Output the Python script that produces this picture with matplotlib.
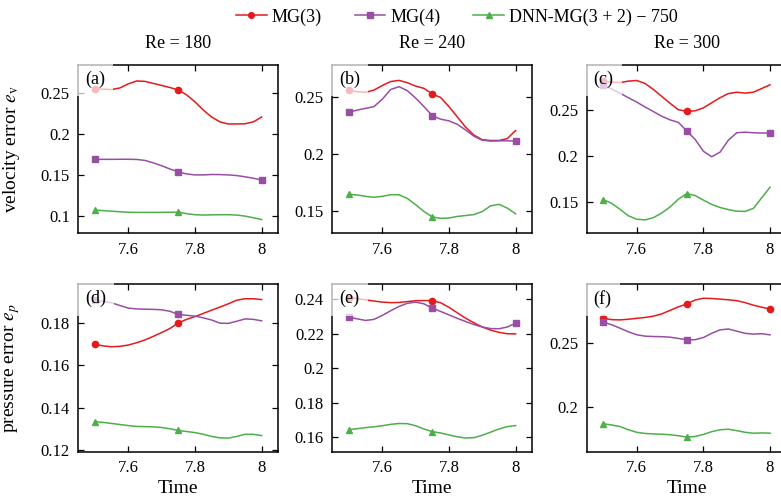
import matplotlib
matplotlib.use("Agg")
import matplotlib.pyplot as plt
from matplotlib.ticker import MultipleLocator, FuncFormatter

plt.rcParams["font.family"] = ["Liberation Serif", "DejaVu Serif"]
plt.rcParams["mathtext.fontset"] = "stix"

# time samples (every 0.025)
time = [7.5, 7.525, 7.55, 7.575, 7.6, 7.625, 7.65, 7.675, 7.7, 7.725, 7.75,
        7.775, 7.8, 7.825, 7.85, 7.875, 7.9, 7.925, 7.95, 7.975, 8.0]

series_names = ["MG(3)", "MG(4)", "DNN-MG(3 + 2) \u2212 750"]
reynolds = [180, 240, 300]
panel_tags = ["(a)", "(b)", "(c)", "(d)", "(e)", "(f)"]

# velocity error, Re = 180
vel_mg3_180 = [0.255, 0.2545, 0.254, 0.256, 0.261, 0.2645, 0.264, 0.2615, 0.259, 0.2565, 0.2535,
               0.2475, 0.239, 0.229, 0.2205, 0.2145, 0.212, 0.212, 0.2122, 0.2145, 0.2205]
vel_mg4_180 = [0.1687, 0.1688, 0.1688, 0.1689, 0.1689, 0.1687, 0.1675, 0.1645, 0.161, 0.157, 0.1535,
               0.151, 0.1498, 0.1498, 0.1503, 0.1502, 0.1498, 0.149, 0.1475, 0.1458, 0.1435]
vel_dnn_180 = [0.1068, 0.1062, 0.1055, 0.1048, 0.1042, 0.104, 0.104, 0.104, 0.1041, 0.1042, 0.1043,
               0.1025, 0.1012, 0.1008, 0.101, 0.1012, 0.1012, 0.1008, 0.0995, 0.0975, 0.0953]

# velocity error, Re = 240
vel_mg3_240 = [0.256, 0.2545, 0.254, 0.256, 0.26, 0.2635, 0.2645, 0.2625, 0.2595, 0.2575, 0.2525,
               0.2495, 0.2415, 0.2325, 0.2235, 0.2165, 0.2125, 0.2118, 0.2118, 0.2135, 0.2205]
vel_mg4_240 = [0.2365, 0.2385, 0.24, 0.2415, 0.248, 0.2565, 0.259, 0.2555, 0.249, 0.2415, 0.2335,
               0.2305, 0.229, 0.226, 0.221, 0.2155, 0.212, 0.2113, 0.2115, 0.2115, 0.2113]
vel_dnn_240 = [0.1645, 0.164, 0.1628, 0.162, 0.1628, 0.1643, 0.1642, 0.161, 0.1555, 0.1495, 0.1448,
               0.1435, 0.1438, 0.1452, 0.146, 0.1468, 0.1495, 0.1545, 0.1558, 0.1525, 0.1475]

# velocity error, Re = 300
vel_mg3_300 = [0.2815, 0.2805, 0.28, 0.2815, 0.2822, 0.279, 0.2725, 0.265, 0.2575, 0.2505, 0.2488,
               0.2493, 0.2525, 0.258, 0.2635, 0.268, 0.2695, 0.2685, 0.2695, 0.2735, 0.2775]
vel_mg4_300 = [0.2775, 0.273, 0.2685, 0.2635, 0.2588, 0.2535, 0.2485, 0.2435, 0.2395, 0.2368, 0.2275,
               0.2185, 0.2055, 0.1995, 0.2045, 0.2175, 0.2255, 0.2262, 0.2255, 0.2252, 0.2253]
vel_dnn_300 = [0.153, 0.149, 0.1425, 0.1355, 0.1318, 0.131, 0.1335, 0.1385, 0.145, 0.1535, 0.1595,
               0.1575, 0.1525, 0.1478, 0.1445, 0.1422, 0.1405, 0.1402, 0.1435, 0.155, 0.1665]

# pressure error, Re = 180
pre_mg3_180 = [0.1698, 0.169, 0.1686, 0.1688, 0.1694, 0.1705, 0.1718, 0.1735, 0.1753, 0.1772, 0.1798,
               0.1815, 0.1828, 0.1843, 0.1858, 0.1873, 0.1888, 0.1905, 0.1912, 0.1912, 0.1908]
pre_mg4_180 = [0.1905, 0.19, 0.1893, 0.188, 0.1868, 0.1864, 0.1863, 0.1862, 0.186, 0.1853, 0.1838,
               0.1834, 0.183, 0.1822, 0.1812, 0.1797, 0.1796, 0.1806, 0.1817, 0.1815, 0.1808]
pre_dnn_180 = [0.1333, 0.133, 0.1325, 0.132, 0.1315, 0.1311, 0.131, 0.1309, 0.1306, 0.13, 0.1292,
               0.1287, 0.1282, 0.1274, 0.1264, 0.1257, 0.1256, 0.1264, 0.1274, 0.1274, 0.1268]

# pressure error, Re = 240
pre_mg3_240 = [0.2408, 0.2402, 0.2395, 0.2388, 0.2382, 0.2379, 0.238, 0.2385, 0.239, 0.2391, 0.2391,
               0.2378, 0.2352, 0.232, 0.2289, 0.2262, 0.2238, 0.222, 0.2207, 0.2199, 0.2198]
pre_mg4_240 = [0.2295, 0.2285, 0.2276, 0.2282, 0.2305, 0.2332, 0.2357, 0.2375, 0.2382, 0.2372, 0.2347,
               0.2328, 0.2308, 0.2288, 0.227, 0.2252, 0.2238, 0.2229, 0.2228, 0.2238, 0.226]
pre_dnn_240 = [0.1645, 0.165, 0.1656, 0.1661, 0.1667, 0.1675, 0.168, 0.1679, 0.1667, 0.1648, 0.1633,
               0.1625, 0.1614, 0.1603, 0.1596, 0.1598, 0.1612, 0.163, 0.1648, 0.1662, 0.1668]

# pressure error, Re = 300
pre_mg3_300 = [0.2695, 0.2685, 0.2683, 0.2688, 0.2695, 0.2702, 0.2712, 0.273, 0.2757, 0.2785, 0.2807,
               0.2838, 0.2852, 0.285, 0.2845, 0.284, 0.2833, 0.2818, 0.2798, 0.2782, 0.2768]
pre_mg4_300 = [0.2665, 0.2645, 0.2618, 0.259, 0.2567, 0.2556, 0.2553, 0.2552, 0.2548, 0.2538, 0.2528,
               0.2528, 0.2545, 0.2578, 0.2605, 0.2612, 0.2595, 0.2578, 0.2572, 0.2575, 0.2566]
pre_dnn_300 = [0.1872, 0.1862, 0.185, 0.1825, 0.1805, 0.1796, 0.1792, 0.179, 0.1786, 0.1778, 0.1768,
               0.1772, 0.1788, 0.181, 0.1825, 0.1829, 0.1818, 0.1805, 0.1798, 0.18, 0.1798]

colors = ["#e41a1c", "#984ea3", "#4daf4a"]
markers = ["o", "s", "^"]

panels = [
    ([vel_mg3_180, vel_mg4_180, vel_dnn_180], (0.0785, 0.284), 0.05, [[0, 10], [0, 10, 20], [0, 10]]),
    ([vel_mg3_240, vel_mg4_240, vel_dnn_240], (0.1304, 0.278), 0.05, [[0, 10], [0, 10, 20], [0, 10]]),
    ([vel_mg3_300, vel_mg4_300, vel_dnn_300], (0.1165, 0.299), 0.05, [[0, 10], [0, 10, 20], [0, 10]]),
    ([pre_mg3_180, pre_mg4_180, pre_dnn_180], (0.1193, 0.198), 0.02, [[0, 10], [0, 10], [0, 10]]),
    ([pre_mg3_240, pre_mg4_240, pre_dnn_240], (0.1518, 0.2485), 0.02, [[0, 10], [0, 10, 20], [0, 10]]),
    ([pre_mg3_300, pre_mg4_300, pre_dnn_300], (0.1655, 0.2961), 0.05, [[0, 10, 20], [0, 10], [0, 10]]),
]

W, H = 781, 500
fig = plt.figure(figsize=(W / 100, H / 100), dpi=100)

col_left = [78.3, 332.3, 586.7]
row_top = [65, 284.3]
row_bottom = [233.3, 451.5]
ax_w = 200

fmt = FuncFormatter(lambda v, pos: f"{v:g}")
axes = []
for i, (data, ylim, step, marks) in enumerate(panels):
    r, c = divmod(i, 3)
    ax = fig.add_axes([col_left[c] / W, 1 - row_bottom[r] / H, ax_w / W,
                       (row_bottom[r] - row_top[r]) / H])
    for k, vals in enumerate(data):
        ax.plot(time, vals, color=colors[k], lw=1.1, marker=markers[k], ms=4.5,
                markevery=marks[k], label=series_names[k], clip_on=False)
    ax.set_xlim(7.45, 8.05)
    ax.set_ylim(*ylim)
    ax.xaxis.set_major_locator(MultipleLocator(0.2))
    ax.yaxis.set_major_locator(MultipleLocator(step))
    ax.xaxis.set_major_formatter(fmt)
    ax.yaxis.set_major_formatter(fmt)
    ax.tick_params(direction="in", top=True, right=True, length=4, width=0.9,
                   labelsize=12, pad=6)
    for s in ax.spines.values():
        s.set_linewidth(1.1)
    ax.text(0.035, 0.965, panel_tags[i], transform=ax.transAxes, ha="left", va="top",
            fontsize=13, zorder=10,
            bbox=dict(boxstyle="square,pad=0.45", facecolor="white", alpha=0.7, edgecolor="none"))
    if r == 0:
        ax.set_title(f"Re = {reynolds[c]}", fontsize=13, pad=12)
    else:
        ax.set_xlabel("Time", fontsize=14)
        ax.xaxis.set_label_coords(0.5, -0.17)
    axes.append(ax)

axes[0].set_ylabel(r"velocity error $e_{\mathrm{v}}$", fontsize=14)
axes[3].set_ylabel(r"pressure error $e_p$", fontsize=14)
axes[0].yaxis.set_label_coords(-0.28, 0.5)
axes[3].yaxis.set_label_coords(-0.28, 0.5)

handles, labels = axes[0].get_legend_handles_labels()
fig.legend(handles, labels, loc="center", bbox_to_anchor=(457 / W, 1 - 17 / H), ncol=3,
           frameon=False, fontsize=13, handlelength=1.7, handletextpad=0.3,
           columnspacing=1.8, markerscale=0.9)

fig.savefig("out.png", dpi=100)
